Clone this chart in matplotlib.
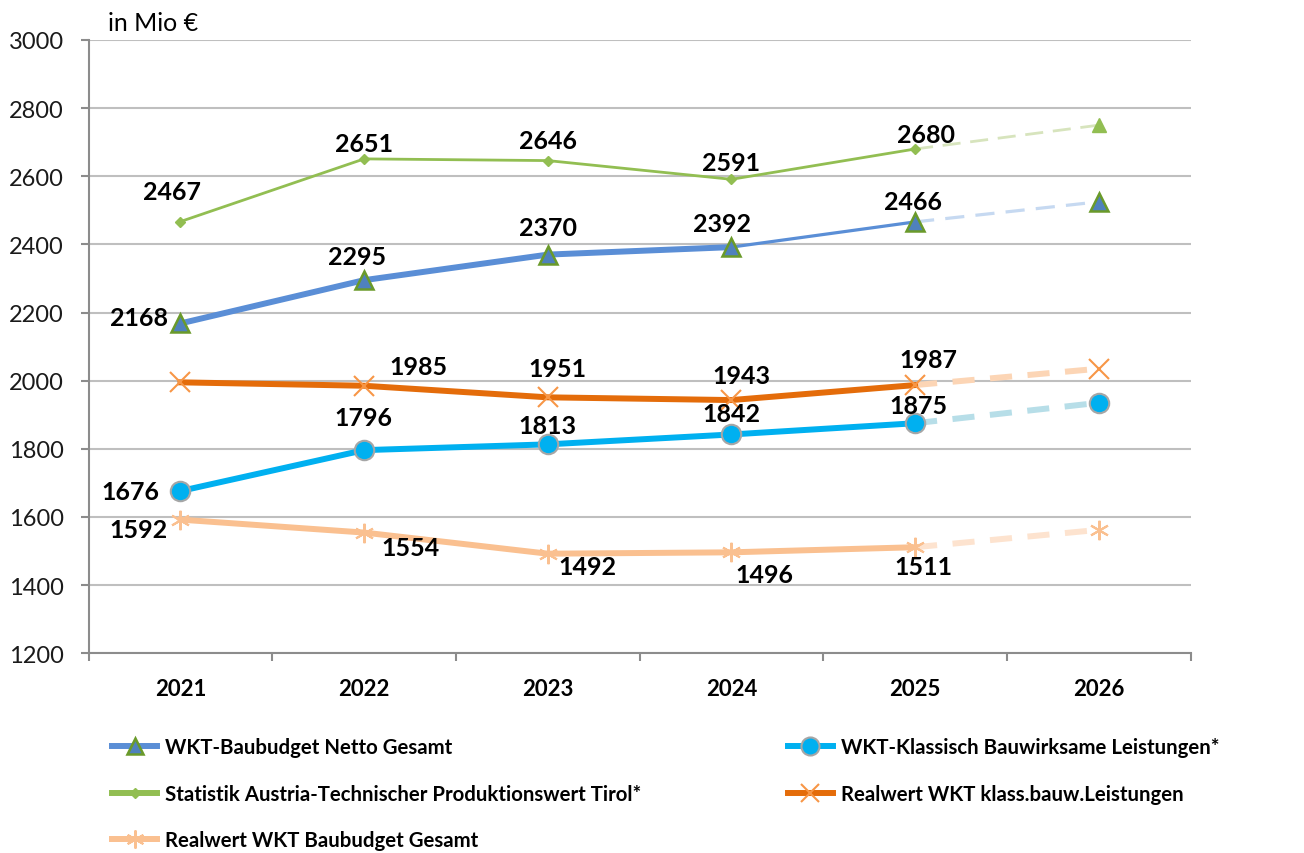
import matplotlib
matplotlib.use("Agg")
import matplotlib.pyplot as plt
from matplotlib.lines import Line2D
import numpy as np

plt.rcParams['font.family'] = ['Lato', 'DejaVu Sans']

years = ["2021", "2022", "2023", "2024", "2025", "2026"]
baubudget = [2168, 2295, 2370, 2392, 2466, 2525]
statistik = [2467, 2651, 2646, 2591, 2680, 2750]
real_klass = [1995, 1985, 1951, 1943, 1987, 2035]
klassisch = [1676, 1796, 1813, 1842, 1875, 1935]
real_baubudget = [1592, 1554, 1492, 1496, 1511, 1562]

names = ["WKT-Baubudget Netto Gesamt",
         "Statistik Austria-Technischer Produktionswert Tirol*",
         "Realwert WKT Baubudget Gesamt",
         "WKT-Klassisch Bauwirksame Leistungen*",
         "Realwert WKT klass.bauw.Leistungen"]

x = np.arange(len(years))

fig = plt.figure(figsize=(13.04, 8.54), dpi=100)
ax = fig.add_axes([0.068, 0.234, 0.845, 0.718])

# colours
c_blue, c_blue_l = "#5A8ED6", "#C6D9F1"
c_green, c_green_l = "#92BE52", "#D7E4BD"
c_orange, c_orange_l, c_orange_m = "#E46C0A", "#FCD5B5", "#F79646"
c_cyan, c_cyan_l = "#00B0F0", "#B7DEE8"
c_peach, c_peach_l = "#FAC090", "#FDE3CF"

TH = 4.3
TN = 2.0

# Projections (dashed) 2025->2026
ax.plot(x[4:6], statistik[4:6], color=c_green_l, lw=TN, dashes=(6.5, 3.5), zorder=2)
ax.plot(x[4:6], baubudget[4:6], color=c_blue_l, lw=TN+0.3, dashes=(6, 3.5), zorder=2)
ax.plot(x[4:6], real_klass[4:6], color=c_orange_l, lw=TH, dashes=(3.7, 2.6), zorder=2)
ax.plot(x[4:6], klassisch[4:6], color=c_cyan_l, lw=TH, dashes=(3.7, 2.6), zorder=2)
ax.plot(x[4:6], real_baubudget[4:6], color=c_peach_l, lw=TH, dashes=(3.7, 2.6), zorder=2)

# Solid lines 2021-2025
ax.plot(x[:5], statistik[:5], color=c_green, lw=TN, marker='D', ms=5,
        mfc=c_green, mec=c_green, zorder=3)
ax.plot(x[:4], baubudget[:4], color=c_blue, lw=TH, zorder=3)
ax.plot(x[3:5], baubudget[3:5], color=c_blue, lw=TN+0.3, zorder=3)
ax.plot(x[:5], baubudget[:5], ls='none', marker='^', ms=13, mfc="#4F81BD",
        mec="#6A9A2A", mew=1.8, zorder=4)
ax.plot(x[:5], real_klass[:5], color=c_orange, lw=TH, zorder=3)
ax.plot(x[:5], real_klass[:5], ls='none', marker='x', ms=14, mec=c_orange_m,
        mew=1.5, zorder=4)
ax.plot(x[:5], klassisch[:5], color=c_cyan, lw=TH, marker='o', ms=14,
        mfc=c_cyan, mec="#A6A6A6", mew=1.5, zorder=4)
ax.plot(x[:5], real_baubudget[:5], color=c_peach, lw=TH, zorder=3)
ax.plot(x[:5], real_baubudget[:5], ls='none', marker=(6, 2, 0), ms=14,
        mec=c_peach, mew=1.5, zorder=4)

# 2026 markers
ax.plot(x[5], statistik[5], ls='none', marker='^', ms=10, mfc=c_green, mec=c_green, zorder=4)
ax.plot(x[5], baubudget[5], ls='none', marker='^', ms=13, mfc="#4F81BD", mec="#6A9A2A", mew=1.8, zorder=4)
ax.plot(x[5], real_klass[5], ls='none', marker='x', ms=14, mec=c_orange_m, mew=1.5, zorder=4)
ax.plot(x[5], klassisch[5], ls='none', marker='o', ms=14, mfc=c_cyan, mec="#A6A6A6", mew=1.5, zorder=4)
ax.plot(x[5], real_baubudget[5], ls='none', marker=(6, 2, 0), ms=14, mec=c_peach, mew=1.5, zorder=4)

# Data labels (offsets in pixels)
lab_font = dict(fontsize=18, fontweight='bold', color='black', ha='center', va='center')
offs = {
    "statistik": [(-8, 30), (0, 15), (0, 20), (0, 17), (11, 15)],
    "baubudget": [(-41, 6), (-7, 24), (0, 27), (-9, 24), (-2, 20)],
    "real_klass": [None, (54, 19), (10, 29), (10, 25), (13, 26)],
    "klassisch": [(-50, 0), (-1, 33), (0, 19), (0, 21), (3, 18)],
    "real_baubudget": [(-42, -10), (46, -15), (40, -13), (33, -22), (8, -19)],
}
series = {"statistik": statistik, "baubudget": baubudget, "real_klass": real_klass,
          "klassisch": klassisch, "real_baubudget": real_baubudget}
for key, vals in series.items():
    for i, o in enumerate(offs[key]):
        if o is None:
            continue
        ax.annotate(str(vals[i]), (x[i], vals[i]), xytext=o,
                    textcoords='offset pixels', zorder=6, **lab_font)

# Axes styling
ax.set_xlim(-0.5, 5.5)
ax.set_ylim(1200, 3000)
ax.set_yticks(np.arange(1200, 3001, 200))
ax.yaxis.grid(True, color="#BFBFBF", lw=1.5)
ax.set_axisbelow(True)
for s in ['top', 'right']:
    ax.spines[s].set_visible(False)
for s in ['left', 'bottom']:
    ax.spines[s].set_color("#8C8C8C")
    ax.spines[s].set_linewidth(1.5)
ax.set_xticks(x)
ax.set_xticklabels(years, fontsize=16, fontweight='bold')
ax.set_xticks(np.arange(-0.5, 5.6, 1), minor=True)
ax.tick_params(axis='x', which='major', length=0, pad=18)
ax.tick_params(axis='x', which='minor', length=6, color="#8C8C8C", width=1.5)
ax.tick_params(axis='y', length=6, color="#8C8C8C", width=1.5, labelsize=17, pad=12)
for t in ax.get_yticklabels():
    t.set_color("#1A1A1A")

fig.text(0.083, 0.972, "in Mio €", fontsize=18, ha='left', va='center')

# Legend
h_baubudget = Line2D([], [], color=c_blue, lw=TH, marker='^', ms=12, mfc="#4F81BD", mec="#6A9A2A", mew=1.8)
h_statistik = Line2D([], [], color=c_green, lw=TH, marker='D', ms=5, mfc=c_green, mec=c_green)
h_real_bb = Line2D([], [], color=c_peach, lw=TH, marker=(6, 2, 0), ms=13, mec=c_peach, mew=1.5)
h_klassisch = Line2D([], [], color=c_cyan, lw=TH, marker='o', ms=13, mfc=c_cyan, mec="#A6A6A6", mew=1.5)
h_real_kl = Line2D([], [], color=c_orange, lw=TH, marker='x', ms=13, mec=c_orange_m, mew=1.5)

leg_kw = dict(frameon=False, handlelength=2.2, handletextpad=0.4,
              labelspacing=1.3, prop=dict(weight='bold', size=14.7))
fig.legend([h_baubudget, h_statistik, h_real_bb], names[:3],
           loc='upper left', bbox_to_anchor=(0.072, 0.157), **leg_kw)
fig.legend([h_klassisch, h_real_kl], names[3:],
           loc='upper left', bbox_to_anchor=(0.59, 0.157), **leg_kw)

fig.savefig("out.png", dpi=100)
